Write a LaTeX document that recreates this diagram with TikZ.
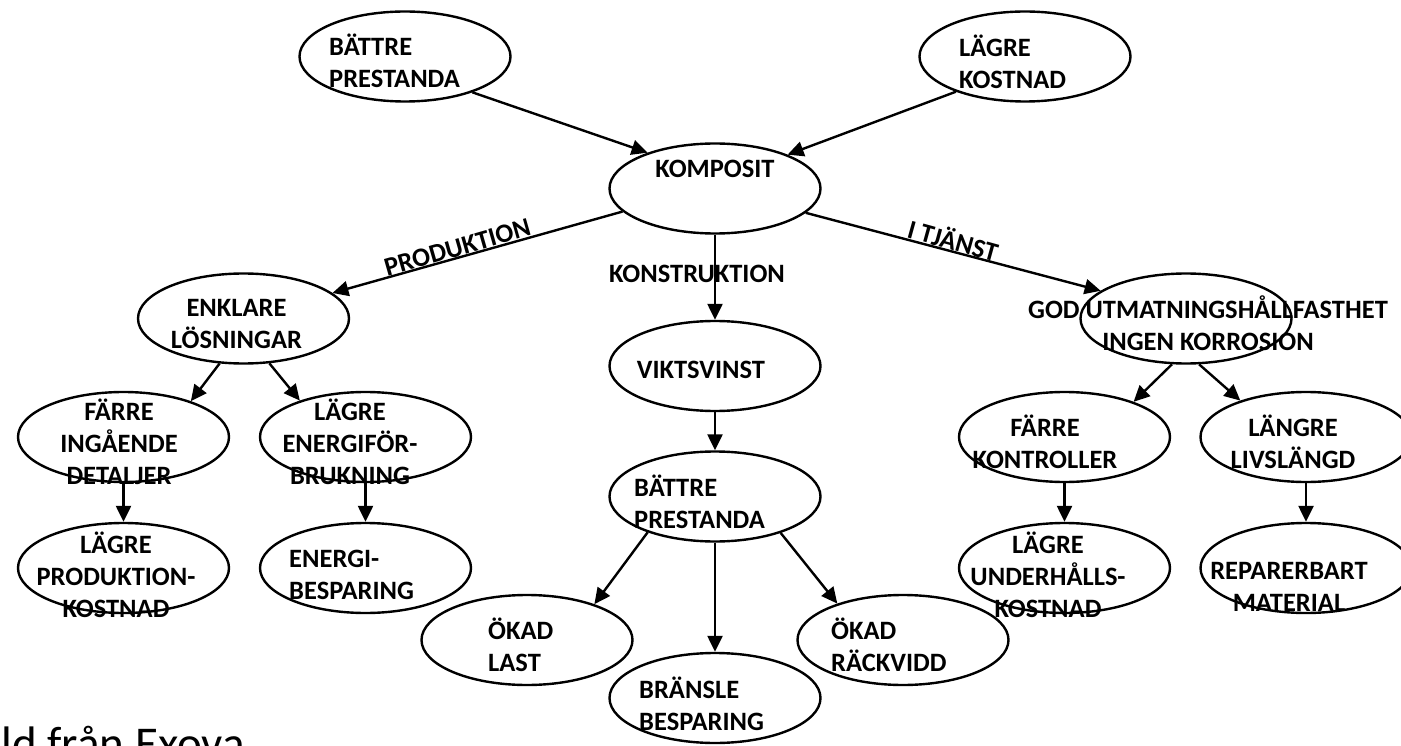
\documentclass[tikz,border=0pt]{standalone}
\usepackage{fontspec}
\setmainfont{Carlito}
\usetikzlibrary{shapes.geometric,arrows.meta}
\begin{document}
\begin{tikzpicture}[x=1pt,y=-1pt,
  ell/.style={draw, ellipse, line width=2.4pt, minimum width=211pt, minimum height=90pt, inner sep=0pt},
  arr/.style={line width=2.4pt, -{Triangle[length=16pt,width=15pt]}},
  lbl/.style={inner sep=0pt, font=\fontsize{26.5pt}{32pt}\selectfont\bfseries},
  txtc/.style={lbl, anchor=base},
  txtl/.style={lbl, anchor=base west},
]
\useasboundingbox (0,0) rectangle (1401,746);
\clip (0,0) rectangle (1401,746);
\fill[white] (0,0) rectangle (1401,746);

% ellipses
\node[ell] (bp)   at (405,56.5)   {};
\node[ell] (lk)   at (1025,56.5)  {};
\node[ell] (komp) at (715,188.5)  {};
\node[ell] (enk)  at (243.5,318.5) {};
\node[ell] (god)  at (1186,318.5) {};
\node[ell] (vikt) at (715,366)    {};
\node[ell] (fid)  at (123.5,437)  {};
\node[ell] (lef)  at (365.5,437)  {};
\node[ell] (fk)   at (1064.5,437) {};
\node[ell] (ll)   at (1306,437)   {};
\node[ell] (bpm)  at (715,496.5)  {};
\node[ell] (lpk)  at (123.5,568)  {};
\node[ell] (eb)   at (365.5,568)  {};
\node[ell] (luk)  at (1064.5,568) {};
\node[ell] (rm)   at (1306,568)   {};
\node[ell] (okl)  at (527,640)    {};
\node[ell] (okr)  at (903,640)    {};
\node[ell] (bb)   at (715,698)    {};

% texts
\node[txtl] (bpt)   at (329,55.5)   {\begin{tabular}[t]{@{}l@{}}BÄTTRE\\PRESTANDA\end{tabular}};
\node[txtl] (lkt)   at (959,56.5)   {\begin{tabular}[t]{@{}l@{}}LÄGRE\\KOSTNAD\end{tabular}};
\node[txtc] (kompt) at (715,177.5)  {KOMPOSIT};
\node[txtc] (enkt)  at (236.5,316.5) {\begin{tabular}[t]{@{}c@{}}ENKLARE\\LÖSNINGAR\end{tabular}};
\node[txtc] (godt)  at (1208,318.5) {\begin{tabular}[t]{@{}c@{}}GOD UTMATNINGSHÅLLFASTHET\\INGEN KORROSION\end{tabular}};
\node[txtc] (viktt) at (701,378.5)  {VIKTSVINST};
\node[txtc] (fidt)  at (119,420.5)  {\begin{tabular}[t]{@{}c@{}}FÄRRE\\INGÅENDE\\DETALJER\end{tabular}};
\node[txtc] (lieft) at (350,420.5)  {\begin{tabular}[t]{@{}c@{}}LÄGRE\\ENERGIFÖR-\\BRUKNING\end{tabular}};
\node[txtc] (fkt)   at (1045,436.5) {\begin{tabular}[t]{@{}c@{}}FÄRRE\\KONTROLLER\end{tabular}};
\node[txtc] (llt)   at (1293,436.5) {\begin{tabular}[t]{@{}c@{}}LÄNGRE\\LIVSLÄNGD\end{tabular}};
\node[txtl] (bpmt)  at (634,496.5)  {\begin{tabular}[t]{@{}l@{}}BÄTTRE\\PRESTANDA\end{tabular}};
\node[txtc] (lpkt)  at (116,553.5)  {\begin{tabular}[t]{@{}c@{}}LÄGRE\\PRODUKTION-\\KOSTNAD\end{tabular}};
\node[txtl] (ebt)   at (289,567.5)  {\begin{tabular}[t]{@{}l@{}}ENERGI-\\BESPARING\end{tabular}};
\node[txtc] (lukt)  at (1048,553.5) {\begin{tabular}[t]{@{}c@{}}LÄGRE\\UNDERHÅLLS-\\KOSTNAD\end{tabular}};
\node[txtc] (rmt)   at (1289,579.5) {\begin{tabular}[t]{@{}c@{}}REPARERBART\\MATERIAL\end{tabular}};
\node[txtl] (oklt)  at (488,639.5)  {\begin{tabular}[t]{@{}l@{}}ÖKAD\\LAST\end{tabular}};
\node[txtl] (okrt)  at (831,639.5)  {\begin{tabular}[t]{@{}l@{}}ÖKAD\\RÄCKVIDD\end{tabular}};
\node[txtl] (bbt)   at (639,698.5)  {\begin{tabular}[t]{@{}l@{}}BRÄNSLE\\BESPARING\end{tabular}};

% connectors
\draw[arr] (bp.332.8) -- (komp.152.8);
\draw[arr] (lk.207.2) -- (komp.25.9);
\draw[arr] (komp.194.3) -- node[lbl, pos=0.56, rotate=16, anchor=south] (prod) {PRODUKTION} (enk.16.8);
\draw[arr] (komp.345.8) -- node[lbl, pos=0.49, rotate=-15.5, anchor=south] (tj) {I TJÄNST} (god.162.8);
\draw[arr] (komp.south) -- (vikt.north);
\node[txtc] (konst) at (697,282.5) {KONSTRUKTION};
\draw[arr] (enk.242) -- (fid.28.5);
\draw[arr] (enk.300) -- (lef.151.5);
\draw[arr] (god.253.7) -- (fk.27.8);
\draw[arr] (god.286.3) -- (ll.151.5);
\draw[arr] (fid.south) -- (lpk.north);
\draw[arr] (lef.south) -- (eb.north);
\draw[arr] (fk.south) -- (luk.north);
\draw[arr] (ll.south) -- (rm.north);
\draw[arr] (vikt.south) -- (bpm.north);
\draw[arr] (bpm.208.8) -- (okl.28.8);
\draw[arr] (bpm.south) -- (bb.north);
\draw[arr] (bpm.331.5) -- (okr.151.2);

% caption
\node[inner sep=0pt, anchor=base west, font=\fontsize{47pt}{56pt}\selectfont] (cap) at (-35,759) {Bild från Exova};
\end{tikzpicture}
\end{document}
